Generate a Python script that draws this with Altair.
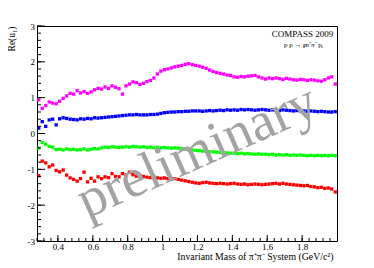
import altair as alt
import pandas as pd

# bin centres of the invariant mass (GeV/c^2)
mass = [round(0.29 + 0.02 * i, 2) for i in range(86)]

re_magenta = [
    0.94, 0.70, 0.78, 0.88, 0.85, 0.83, 0.90, 0.98, 1.05, 1.12,
    1.10, 1.20, 1.13, 1.17, 1.12, 1.16, 1.22, 1.26, 1.24, 1.30,
    1.26, 1.33, 1.29, 1.25, 1.10, 1.33, 1.38, 1.44, 1.42, 1.37,
    1.40, 1.45, 1.48, 1.55, 1.66, 1.74, 1.78, 1.80, 1.83, 1.86,
    1.88, 1.90, 1.93, 1.95, 1.92, 1.90, 1.88, 1.85, 1.82, 1.77,
    1.73, 1.70, 1.68, 1.66, 1.63, 1.62, 1.58, 1.57, 1.59, 1.58,
    1.60, 1.61, 1.62, 1.58, 1.55, 1.52, 1.55, 1.53, 1.55, 1.53,
    1.51, 1.54, 1.52, 1.50, 1.49, 1.51, 1.50, 1.48, 1.50, 1.49,
    1.47, 1.46, 1.50, 1.55, 1.58, 1.38,
]
re_blue = [
    0.15, 0.33, 0.20, 0.38, 0.40, 0.24, 0.41, 0.44, 0.42, 0.40,
    0.39, 0.38, 0.41, 0.40, 0.42, 0.41, 0.44, 0.43, 0.44, 0.45,
    0.46, 0.47, 0.48, 0.49, 0.50, 0.51, 0.52, 0.52, 0.53, 0.52,
    0.52, 0.52, 0.53, 0.53, 0.54, 0.56, 0.58, 0.59, 0.60, 0.60,
    0.61, 0.61, 0.62, 0.62, 0.63, 0.63, 0.63, 0.62, 0.63, 0.64,
    0.63, 0.64, 0.65, 0.64, 0.66, 0.65, 0.66, 0.65, 0.67, 0.66,
    0.67, 0.66, 0.65, 0.66, 0.67, 0.66, 0.65, 0.66, 0.65, 0.64,
    0.66, 0.65, 0.64, 0.63, 0.64, 0.63, 0.63, 0.62, 0.63, 0.62,
    0.61, 0.62, 0.61, 0.60, 0.60, 0.61,
]
re_green = [
    -0.41, -0.25, -0.30, -0.36, -0.38, -0.45, -0.44, -0.46, -0.43, -0.45,
    -0.44, -0.46, -0.45, -0.43, -0.46, -0.44, -0.42, -0.43, -0.40, -0.38,
    -0.39, -0.37, -0.38, -0.39, -0.38, -0.37, -0.38, -0.36, -0.37, -0.38,
    -0.37, -0.39, -0.38, -0.40, -0.39, -0.40, -0.39, -0.40, -0.41, -0.40,
    -0.41, -0.42, -0.44, -0.45, -0.46, -0.47, -0.48, -0.49, -0.50, -0.51,
    -0.51, -0.52, -0.53, -0.53, -0.54, -0.55, -0.55, -0.56, -0.55, -0.57,
    -0.56, -0.57, -0.58, -0.57, -0.58, -0.58, -0.59, -0.58, -0.60, -0.59,
    -0.60, -0.59, -0.61, -0.60, -0.61, -0.60, -0.61, -0.62, -0.61, -0.62,
    -0.61, -0.62, -0.61, -0.62, -0.61, -0.62,
]
re_red = [
    -1.18, -0.77, -0.82, -0.93, -0.88, -1.03, -1.07, -1.02, -1.16, -1.24,
    -1.28, -1.33, -1.26, -1.08, -1.35, -1.25, -1.33, -1.21, -1.26, -1.21,
    -1.23, -1.12, -1.20, -1.21, -1.12, -1.16, -1.08, -1.15, -1.19, -1.17,
    -1.20, -1.22, -1.23, -1.21, -1.24, -1.25, -1.24, -1.26, -1.27, -1.26,
    -1.28, -1.30, -1.32, -1.34, -1.36, -1.38, -1.39, -1.37, -1.36, -1.38,
    -1.39, -1.40, -1.39, -1.40, -1.41, -1.40, -1.39, -1.41, -1.42, -1.41,
    -1.43, -1.42, -1.41, -1.42, -1.43, -1.42, -1.41, -1.40, -1.39, -1.41,
    -1.39, -1.41, -1.42, -1.43, -1.44, -1.45, -1.46, -1.45, -1.48, -1.49,
    -1.51, -1.50, -1.53, -1.52, -1.55, -1.63,
]

series_names = ["magenta", "blue", "green", "red"]
series_colors = ["#ff00ff", "#0000ff", "#00ff00", "#ff0000"]

x_major = [0.4, 0.6, 0.8, 1.0, 1.2, 1.4, 1.6, 1.8]
x_minor = [round(0.28 + 0.04 * k, 2) for k in range(43)]
y_major = [-3, -2, -1, 0, 1, 2, 3]
y_minor = [round(-3 + 0.2 * k, 1) for k in range(31)]

SERIF = "Liberation Serif"
W, H = 300, 215

rows = []
for name, vals in zip(series_names, [re_magenta, re_blue, re_green, re_red]):
    for m, v in zip(mass, vals):
        rows.append({"x": m, "y": v, "s": name})
df = pd.DataFrame(rows)

xscale = alt.Scale(domain=[0.28, 2.0], nice=False, zero=False)
yscale = alt.Scale(domain=[-3, 3], nice=False, zero=False)

xaxis = alt.Axis(
    values=x_major, labelExpr="'' + datum.value", ticks=False, tickSize=0,
    domain=False, grid=False, labelFont=SERIF, labelFontSize=9, labelPadding=1,
    labelColor="black", labelFlush=False, labelOverlap=False,
    title="Invariant Mass of π⁺π⁻ System (GeV/c²)", titleFont=SERIF,
    titleFontSize=9.8, titleFontWeight="normal", titleColor="black",
    titleX=296, titleY=18, titleAlign="right", titleBaseline="alphabetic",
    titleAngle=0,
)
yaxis = alt.Axis(
    values=y_major, labelExpr="'' + datum.value", ticks=False, tickSize=0,
    domain=False, grid=False, labelFont=SERIF, labelFontSize=9, labelPadding=2.5,
    labelColor="black", labelFlush=False, labelOverlap=False,
    title="Re(u₁)", titleFont=SERIF, titleFontSize=9.5,
    titleFontWeight="normal", titleColor="black", titleX=-26, titleY=0,
    titleAngle=270, titleAlign="right", titleBaseline="middle",
)

X = alt.X("x:Q", scale=xscale, axis=xaxis)
Y = alt.Y("y:Q", scale=yscale, axis=yaxis)

points = alt.Chart(df).mark_square(size=11, opacity=1).encode(
    x=X, y=Y,
    color=alt.Color("s:N", scale=alt.Scale(domain=series_names, range=series_colors), legend=None),
)

xmaj = alt.Chart(pd.DataFrame({"x": x_major})).mark_rule(color="black", strokeWidth=1).encode(
    x=X, y=alt.value(H), y2=alt.value(H - 6))
xmin = alt.Chart(pd.DataFrame({"x": x_minor})).mark_rule(color="black", strokeWidth=1).encode(
    x=X, y=alt.value(H), y2=alt.value(H - 3))
ymaj = alt.Chart(pd.DataFrame({"y": y_major})).mark_rule(color="black", strokeWidth=1).encode(
    y=Y, x=alt.value(0), x2=alt.value(8))
ymin = alt.Chart(pd.DataFrame({"y": y_minor})).mark_rule(color="black", strokeWidth=1).encode(
    y=Y, x=alt.value(0), x2=alt.value(4))

base_txt = alt.Chart(pd.DataFrame({"a": [0]}))
watermark = base_txt.mark_text(
    text="preliminary", font=SERIF, fontSize=55, color="#a3a3a3",
    angle=336, align="center", baseline="middle",
).encode(x=alt.value(160), y=alt.value(125))

compass = base_txt.mark_text(
    text="COMPASS 2009", font=SERIF, fontSize=9, color="black",
    align="center", baseline="alphabetic",
).encode(x=alt.value(265.5), y=alt.value(11))

r1 = base_txt.mark_text(text="p p → p", font=SERIF, fontSize=7, color="black",
                        align="left", baseline="alphabetic").encode(x=alt.value(247), y=alt.value(20.5))
r2 = base_txt.mark_text(text="f", font=SERIF, fontSize=4.5, color="black",
                        align="left", baseline="alphabetic").encode(x=alt.value(266), y=alt.value(22))
r3 = base_txt.mark_text(text="π⁺π⁻ p", font=SERIF, fontSize=7, color="black",
                        align="left", baseline="alphabetic").encode(x=alt.value(268.5), y=alt.value(20.5))
r4 = base_txt.mark_text(text="s", font=SERIF, fontSize=4.5, color="black",
                        align="left", baseline="alphabetic").encode(x=alt.value(284), y=alt.value(22))

chart = alt.layer(
    points, xmaj, xmin, ymaj, ymin, watermark, compass, r1, r2, r3, r4
).properties(
    width=W, height=H,
    autosize=alt.AutoSizeParams(type="none"),
    padding={"left": 29, "top": 18, "right": 29, "bottom": 26},
    background="white",
).configure_view(stroke="black", strokeWidth=1)

chart.save("out.html", embed_options={"renderer": "svg", "actions": False})
